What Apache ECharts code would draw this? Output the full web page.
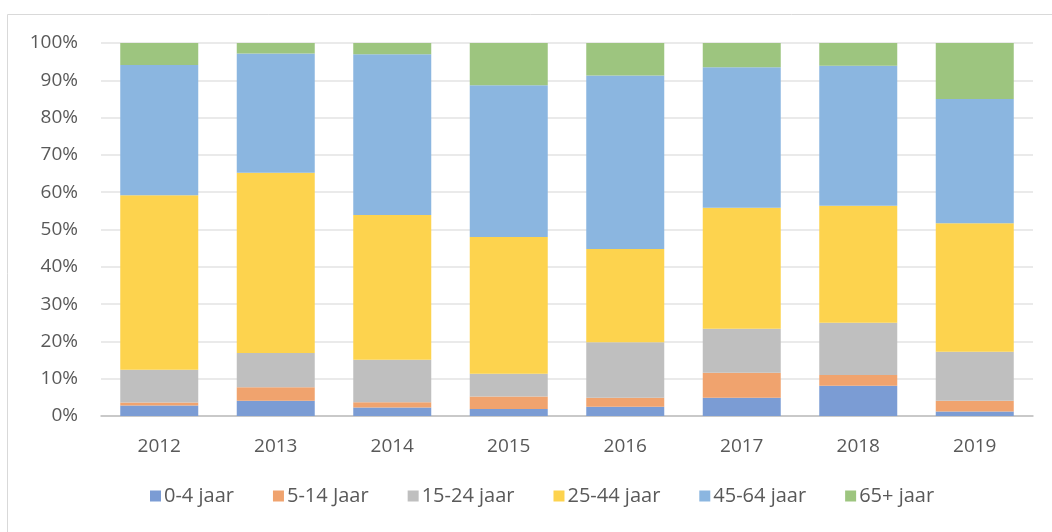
<!DOCTYPE html>
<html>
<head>
<meta charset="utf-8">
<script src="https://cdn.jsdelivr.net/npm/echarts@6/dist/echarts.min.js"></script>
<style>
  html, body { margin: 0; padding: 0; background: #fff; }
  #chart { width: 1052px; height: 532px; }
</style>
</head>
<body>
<div id="chart"></div>
<script>
// jaren (categorieen)
const years = ['2012', '2013', '2014', '2015', '2016', '2017', '2018', '2019'];

// aandeel per leeftijdsgroep, in procenten
const age0to4   = [2.8, 4.1, 2.3, 1.9, 2.5, 4.9, 8.1, 1.2];
const age5to14  = [0.8, 3.6, 1.4, 3.3, 2.4, 6.7, 2.9, 2.9];
const age15to24 = [8.8, 9.2, 11.4, 6.1, 14.9, 11.8, 14.0, 13.1];
const age25to44 = [46.8, 48.3, 38.8, 36.7, 25.0, 32.4, 31.4, 34.5];
const age45to64 = [34.9, 32.0, 43.1, 40.7, 46.5, 37.7, 37.5, 33.3];
const age65plus = [5.9, 2.8, 3.0, 11.3, 8.7, 6.5, 6.1, 15.0];

const seriesNames = ['0-4 jaar', '5-14 Jaar', '15-24 jaar', '25-44 jaar', '45-64 jaar', '65+ jaar'];
const seriesData = [age0to4, age5to14, age15to24, age25to44, age45to64, age65plus];
const colors = ['#7B9CD4', '#F0A36E', '#BFBFBF', '#FDD34E', '#8BB6E0', '#9DC57F'];

const chart = echarts.init(document.getElementById('chart'));

const option = {
  animation: false,
  color: colors,
  textStyle: { fontFamily: 'Open Sans, Noto Sans, sans-serif' },
  graphic: [{
    type: 'rect',
    shape: { x: 7.5, y: 14.5, width: 1100, height: 600 },
    style: { fill: 'none', stroke: '#d9d9d9', lineWidth: 1 },
    silent: true
  }],
  grid: { left: 101, right: 19, top: 43, bottom: 116 },
  legend: {
    bottom: 21,
    left: 145,
    itemWidth: 11,
    itemHeight: 11,
    itemGap: 39,
    icon: 'rect',
    textStyle: { color: '#595959', fontSize: 20, padding: [0, 0, 0, -2] },
    data: seriesNames
  },
  xAxis: {
    type: 'category',
    data: years,
    axisLine: { lineStyle: { color: '#bfbfbf', width: 1.5 } },
    axisTick: { show: false },
    axisLabel: { color: '#595959', fontSize: 19, margin: 21 }
  },
  yAxis: {
    type: 'value',
    min: 0,
    max: 100,
    interval: 10,
    axisLine: { show: false },
    axisTick: { show: false },
    axisLabel: { color: '#595959', fontSize: 19, margin: 23, formatter: '{value}%' },
    splitLine: { lineStyle: { color: '#e3e3e3', width: 1.5 } }
  },
  series: seriesNames.map((name, i) => ({
    name: name,
    type: 'bar',
    stack: 'total',
    barWidth: 78,
    data: seriesData[i]
  }))
};

chart.setOption(option);
</script>
</body>
</html>
